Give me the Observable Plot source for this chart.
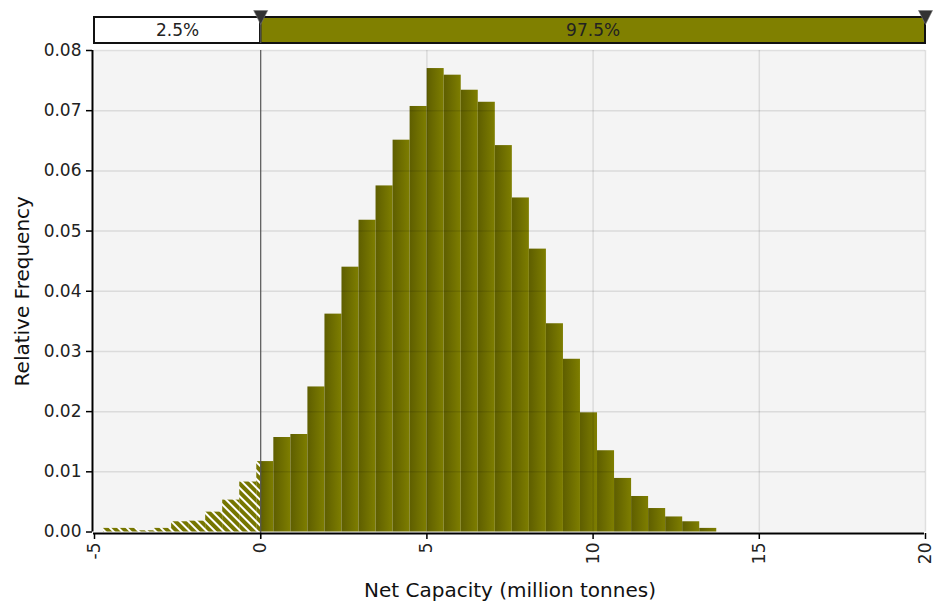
<!DOCTYPE html>
<html><head><meta charset="utf-8">
<script src="https://cdn.jsdelivr.net/npm/d3@7"></script>
<script src="https://cdn.jsdelivr.net/npm/@observablehq/plot@0.6"></script>
<style>body{margin:0;background:#fff} #chart svg{display:block}</style>
</head><body><div id="chart"></div>
<script>
// ---- data ----
const binEdges = [-4.73,-4.218,-3.705,-3.193,-2.68,-2.168,-1.655,-1.143,-0.63,-0.118,0.395,0.908,1.42,1.933,2.445,2.958,3.47,3.983,4.495,5.008,5.52,6.033,6.545,7.058,7.57,8.083,8.595,9.108,9.62,10.133,10.645,11.158,11.67,12.183,12.695,13.208,13.72];
const relFreq = [0.0006,0.0006,0.0002,0.0006,0.0017,0.0018,0.0033,0.0053,0.0083,0.0117,0.0157,0.0162,0.0241,0.0362,0.0440,0.0518,0.0575,0.0651,0.0707,0.0770,0.0759,0.0734,0.0714,0.0642,0.0555,0.0470,0.0346,0.0287,0.0198,0.0135,0.0089,0.0059,0.0039,0.0025,0.0017,0.0006];
const bandLabels = ["2.5%","97.5%"];
const bandBounds = [-5, 0, 20];
const markerX = [0, 20];
const xTicks = [-5,0,5,10,15,20];
const xGrid = [5,10,15,20];
const yTicks = [0,0.01,0.02,0.03,0.04,0.05,0.06,0.07,0.08];
const xLabel = "Net Capacity (million tonnes)";
const yLabel = "Relative Frequency";

// ---- derived ----
const cut = markerX[0];
const bars = relFreq.map((v,i)=>({x1:binEdges[i], x2:binEdges[i+1], y:v}));
const hatchBars = bars.filter(d=>d.x1<cut).map(d=>({...d, x2:Math.min(d.x2,cut)}));
const solidBars = bars.filter(d=>d.x2>cut).map(d=>({...d, x1:Math.max(d.x1,cut)}));
const segments = bandLabels.map((l,i)=>({x1:bandBounds[i], x2:bandBounds[i+1], label:l}));

const W = 938, bandH = 46, H = 607 - bandH;
const font = "'DejaVu Sans', sans-serif";
const ML = 94, MR = 13;

const downTri = {draw(ctx, size){ const k = Math.sqrt(size/Math.PI)/7; ctx.moveTo(-7*k,-6*k); ctx.lineTo(7*k,-6*k); ctx.lineTo(0,8*k); ctx.closePath(); }};

const band = Plot.plot({
  width: W, height: bandH, marginLeft: ML, marginRight: MR, marginTop: 17, marginBottom: 3,
  style: {fontFamily: font, fontSize: "17px", color: "#222", background: "white", overflow: "visible"},
  x: {domain: [-5,20], axis: null}, y: {domain: [0,1], axis: null},
  marks: [
    Plot.rect([segments[0]], {x1:"x1", x2:"x2", y1:0, y2:1, fill:"white"}),
    Plot.rect([segments[1]], {x1:"x1", x2:"x2", y1:0, y2:1, fill:"#808000"}),
    Plot.rect(segments, {x1:"x1", x2:"x2", y1:0, y2:1, fill:"none", stroke:"#111", strokeWidth:2}),
    Plot.ruleX([cut], {stroke:"#555", strokeWidth:1.2}),
    Plot.text(segments, {x: d=>(d.x1+d.x2)/2, y:0.5, text:"label", fill:"#222", fontSize:17}),
    Plot.dot(markerX, {x: d=>d, frameAnchor:"top", dy:-1, symbol: downTri, r:7, fill:"#333", stroke:"#777", strokeWidth:0.6})
  ]
});

const main = Plot.plot({
  width: W, height: H, marginLeft: ML, marginRight: MR, marginTop: 4, marginBottom: 75.5,
  style: {fontFamily: font, fontSize: "17px", color: "#222", background: "white", overflow: "visible"},
  x: {domain: [-5,20]}, y: {domain: [0,0.08]},
  marks: [
    Plot.frame({fill:"#f4f4f4", stroke:null}),
    Plot.rectY(hatchBars, {x1:"x1", x2:"x2", y:"y", fill:"url(#hatch)"}),
    Plot.rectY(solidBars, {x1:"x1", x2:"x2", y:"y", fill:"url(#olivegrad)"}),
    Plot.gridY(yTicks.slice(1), {stroke:"#000", strokeOpacity:0.1, strokeWidth:1.5}),
    Plot.gridX(xGrid, {stroke:"#000", strokeOpacity:0.1, strokeWidth:1.5}),
    Plot.ruleX([cut], {stroke:"#555", strokeWidth:1.2, insetBottom:-7}),
    Plot.axisY(yTicks, {tickFormat: d=>d.toFixed(2), tickSize:6, tickPadding:5, dx:-2, label:null, fontSize:17, stroke:"#000", strokeWidth:1.5}),
    Plot.axisX(xTicks, {tickFormat: d=>String(d), tickRotate:-90, tickSize:6, tickPadding:3, dy:1.5, label:null, fontSize:17, stroke:"#000", strokeWidth:1.5}),
    Plot.ruleX([-5], {dx:-2, stroke:"#000", strokeWidth:2}),
    Plot.ruleY([0], {dy:1.5, dx:-1, stroke:"#000", strokeWidth:2}),
    Plot.text([xLabel], {frameAnchor:"bottom", dy:65, fontSize:20, fill:"#111"}),
    Plot.text([yLabel], {frameAnchor:"left", textAnchor:"middle", dx:-72, rotate:-90, fontSize:20, fill:"#111"})
  ]
});

const ns = "http://www.w3.org/2000/svg";
const defs = document.createElementNS(ns, "defs");
defs.innerHTML = `<linearGradient id="olivegrad" x1="0" x2="1" y1="0" y2="0"><stop offset="0" stop-color="#5e5e00"/><stop offset="1" stop-color="#7e7e00"/></linearGradient>
<pattern id="hatch" patternUnits="userSpaceOnUse" width="6" height="6" patternTransform="rotate(-45)"><rect width="6" height="6" fill="#767600"/><rect width="2" height="6" fill="white"/></pattern>`;
main.insertBefore(defs, main.firstChild);

document.getElementById("chart").append(band, main);
</script></body></html>
